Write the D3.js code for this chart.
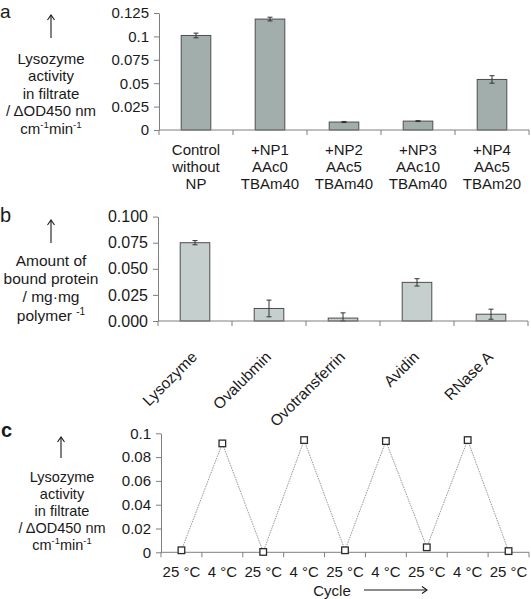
<!DOCTYPE html>
<html>
<head>
<meta charset="utf-8">
<script src="https://cdn.jsdelivr.net/npm/d3@7"></script>
<style>
  html, body { margin: 0; padding: 0; background: #fff; }
  svg { display: block; font-family: "Liberation Sans", Arial, sans-serif; }
</style>
</head>
<body>
<script>
// ---------- DATA ----------
// Panel a
const aCategories = [["Control", "without", "NP"], ["+NP1", "AAc0", "TBAm40"], ["+NP2", "AAc5", "TBAm40"], ["+NP3", "AAc10", "TBAm40"], ["+NP4", "AAc5", "TBAm20"]];
const aValues = [0.101, 0.1185, 0.0085, 0.0095, 0.054];
const aErrors = [0.0025, 0.002, 0.0006, 0.0005, 0.004];
const aTicks = [0, 0.025, 0.05, 0.075, 0.1, 0.125];
const aTickLabels = ["0", "0.025", "0.05", "0.075", "0.1", "0.125"];

// Panel b
const bCategories = ["Lysozyme", "Ovalubmin", "Ovotransferrin", "Avidin", "RNase A"];
const bValues = [0.075, 0.012, 0.0028, 0.037, 0.0065];
const bErrors = [0.002, 0.008, 0.005, 0.0035, 0.0048];
const bTicks = [0, 0.025, 0.05, 0.075, 0.1];
const bTickLabels = ["0.000", "0.025", "0.050", "0.075", "0.100"];

// Panel c
const cCategories = ["25 °C", "4 °C", "25 °C", "4 °C", "25 °C", "4 °C", "25 °C", "4 °C", "25 °C"];
const cValues = [0.0017, 0.0915, 0.0003, 0.0943, 0.0017, 0.0935, 0.0042, 0.0943, 0.001];
const cTicks = [0, 0.02, 0.04, 0.06, 0.08, 0.1];
const cTickLabels = ["0", "0.02", "0.04", "0.06", "0.08", "0.1"];

// ---------- DRAWING ----------
const W = 531, H = 599;
const TEXT = "#1a1a1a", AXIS = "#7f7f7f", BAR_STROKE = "#4d4d4d";

const svg = d3.select("body").append("svg").attr("width", W).attr("height", H);

function upArrow(g, x, y1, y2) {
  g.append("line").attr("x1", x).attr("x2", x).attr("y1", y2).attr("y2", y1)
    .attr("stroke", TEXT).attr("stroke-width", 1.1);
  g.append("path").attr("d", `M${x - 3.5},${y1 + 5} L${x},${y1} L${x + 3.5},${y1 + 5}`)
    .attr("fill", "none").attr("stroke", TEXT).attr("stroke-width", 1.1);
}

function titleLines(g, x, y0, spacing, lines, size) {
  lines.forEach((segs, i) => {
    const t = g.append("text").attr("x", x).attr("y", y0 + i * spacing)
      .attr("text-anchor", "middle").attr("font-size", size).attr("fill", TEXT);
    let up = false;
    segs.forEach(s => {
      const sp = t.append("tspan").text(s.t);
      if (s.sup && !up) { sp.attr("dy", -6).attr("font-size", size * 0.65); up = true; }
      else if (!s.sup && up) { sp.attr("dy", 6); up = false; }
      else if (s.sup) sp.attr("font-size", size * 0.65);
    });
  });
}

function yAxis(g, y, x0, ticks, labels, size) {
  const ax = d3.axisLeft(y).tickValues(ticks).tickFormat((d, i) => labels[i])
    .tickSize(5).tickSizeOuter(0).tickPadding(5);
  const a = g.append("g").attr("transform", `translate(${x0},0)`).call(ax);
  a.select(".domain").attr("stroke", AXIS);
  a.selectAll(".tick line").attr("stroke", AXIS);
  a.selectAll(".tick text").attr("fill", TEXT).attr("font-size", size)
    .attr("font-family", "Liberation Sans, Arial, sans-serif");
}

function xAxisLine(g, x, y0) {
  const [r0, r1] = x.range();
  g.append("line").attr("x1", r0).attr("x2", r1).attr("y1", y0).attr("y2", y0)
    .attr("stroke", AXIS);
  const n = x.domain().length;
  for (let i = 0; i <= n; i++) {
    const tx = r0 + i * x.step();
    g.append("line").attr("x1", tx).attr("x2", tx).attr("y1", y0).attr("y2", y0 + 5)
      .attr("stroke", AXIS);
  }
}

function bars(g, x, y, vals, errs, fill) {
  const bw = x.step() * 0.4;
  vals.forEach((v, i) => {
    const cx = x(x.domain()[i]) + x.bandwidth() / 2;
    g.append("rect").attr("x", cx - bw / 2).attr("width", bw)
      .attr("y", y(v)).attr("height", y(0) - y(v))
      .attr("fill", fill).attr("stroke", BAR_STROKE).attr("stroke-width", 1);
    const e = errs[i];
    const eg = g.append("g").attr("stroke", "#333").attr("stroke-width", 1);
    eg.append("line").attr("x1", cx).attr("x2", cx).attr("y1", y(v + e)).attr("y2", y(Math.max(0, v - e)));
    eg.append("line").attr("x1", cx - 2.5).attr("x2", cx + 2.5).attr("y1", y(v + e)).attr("y2", y(v + e));
    eg.append("line").attr("x1", cx - 2.5).attr("x2", cx + 2.5).attr("y1", y(Math.max(0, v - e))).attr("y2", y(Math.max(0, v - e)));
  });
}

// ===== Panel a =====
{
  const g = svg.append("g");
  g.append("text").attr("x", 0).attr("y", 18).attr("font-size", 19).attr("fill", TEXT).text("a");
  const x = d3.scaleBand().domain(aCategories.map((d, i) => i)).range([159, 529]).padding(0);
  const y = d3.scaleLinear().domain([0, 0.125]).range([130, 13]);
  bars(g, x, y, aValues, aErrors, "#a1aeac");
  yAxis(g, y, 159, aTicks, aTickLabels, 15);
  xAxisLine(g, x, 130);
  aCategories.forEach((lines, i) => {
    const cx = x(i) + x.bandwidth() / 2;
    lines.forEach((l, j) => {
      g.append("text").attr("x", cx).attr("y", 154.5 + j * 17.3).attr("text-anchor", "middle")
        .attr("font-size", 15).attr("fill", TEXT).text(l);
    });
  });
  upArrow(g, 51, 15, 38);
  titleLines(g, 51, 63.5, 17.5, [
    [{ t: "Lysozyme" }], [{ t: "activity" }], [{ t: "in filtrate" }], [{ t: "/ ΔOD450 nm" }],
    [{ t: "cm" }, { t: "-1", sup: true }, { t: "min" }, { t: "-1", sup: true }]
  ], 15);
}

// ===== Panel b =====
{
  const g = svg.append("g");
  g.append("text").attr("x", 0).attr("y", 221.5).attr("font-size", 20).attr("fill", TEXT).text("b");
  const x = d3.scaleBand().domain(bCategories).range([158, 528]).padding(0);
  const y = d3.scaleLinear().domain([0, 0.1]).range([321, 216.6]);
  bars(g, x, y, bValues, bErrors, "#c5cfcd");
  yAxis(g, y, 158, bTicks, bTickLabels, 16);
  xAxisLine(g, x, 321);
  bCategories.forEach(c => {
    const cx = x(c) + x.bandwidth() / 2;
    g.append("text").attr("transform", `translate(${cx + 3},${358}) rotate(-45)`)
      .attr("text-anchor", "end").attr("font-size", 15.5).attr("fill", TEXT).text(c);
  });
  upArrow(g, 51, 220, 243);
  titleLines(g, 51, 266, 18.2, [
    [{ t: "Amount of" }], [{ t: "bound protein" }], [{ t: "/ mg·mg" }],
    [{ t: "polymer " }, { t: "-1", sup: true }]
  ], 15.5);
}

// ===== Panel c =====
{
  const g = svg.append("g");
  g.append("text").attr("x", 1).attr("y", 436.5).attr("font-size", 20).attr("font-weight", "bold").attr("fill", TEXT).text("c");
  const x = d3.scaleBand().domain(cCategories.map((d, i) => i)).range([161, 529]).padding(0);
  const y = d3.scaleLinear().domain([0, 0.1]).range([552.3, 433.3]);
  yAxis(g, y, 161, cTicks, cTickLabels, 15);
  xAxisLine(g, x, 552.3);
  const line = d3.line().x((d, i) => x(i) + x.bandwidth() / 2).y(d => y(d));
  g.append("path").attr("d", line(cValues)).attr("fill", "none")
    .attr("stroke", "#8a8a8a").attr("stroke-width", 0.9).attr("stroke-dasharray", "1.5,1");
  cValues.forEach((v, i) => {
    const cx = x(i) + x.bandwidth() / 2;
    g.append("rect").attr("x", cx - 3.3).attr("y", y(v) - 3.3).attr("width", 6.6).attr("height", 6.6)
      .attr("fill", "#fff").attr("stroke", "#2a2a2a").attr("stroke-width", 1.3);
  });
  cCategories.forEach((c, i) => {
    const cx = x(i) + x.bandwidth() / 2;
    g.append("text").attr("x", cx).attr("y", 577).attr("text-anchor", "middle")
      .attr("font-size", 15).attr("fill", TEXT).text(c);
  });
  g.append("text").attr("x", 332).attr("y", 595.5).attr("text-anchor", "middle")
    .attr("font-size", 15).attr("fill", TEXT).text("Cycle");
  g.append("line").attr("x1", 364).attr("x2", 427).attr("y1", 590).attr("y2", 590)
    .attr("stroke", TEXT).attr("stroke-width", 1.1);
  g.append("path").attr("d", "M422,586.5 L427,590 L422,593.5").attr("fill", "none")
    .attr("stroke", TEXT).attr("stroke-width", 1.1);
  upArrow(g, 61, 437, 458);
  titleLines(g, 62, 482, 17, [
    [{ t: "Lysozyme" }], [{ t: "activity" }], [{ t: "in filtrate" }], [{ t: "/ ΔOD450 nm" }],
    [{ t: "cm" }, { t: "-1", sup: true }, { t: "min" }, { t: "-1", sup: true }]
  ], 14.5);
}
</script>
</body>
</html>
